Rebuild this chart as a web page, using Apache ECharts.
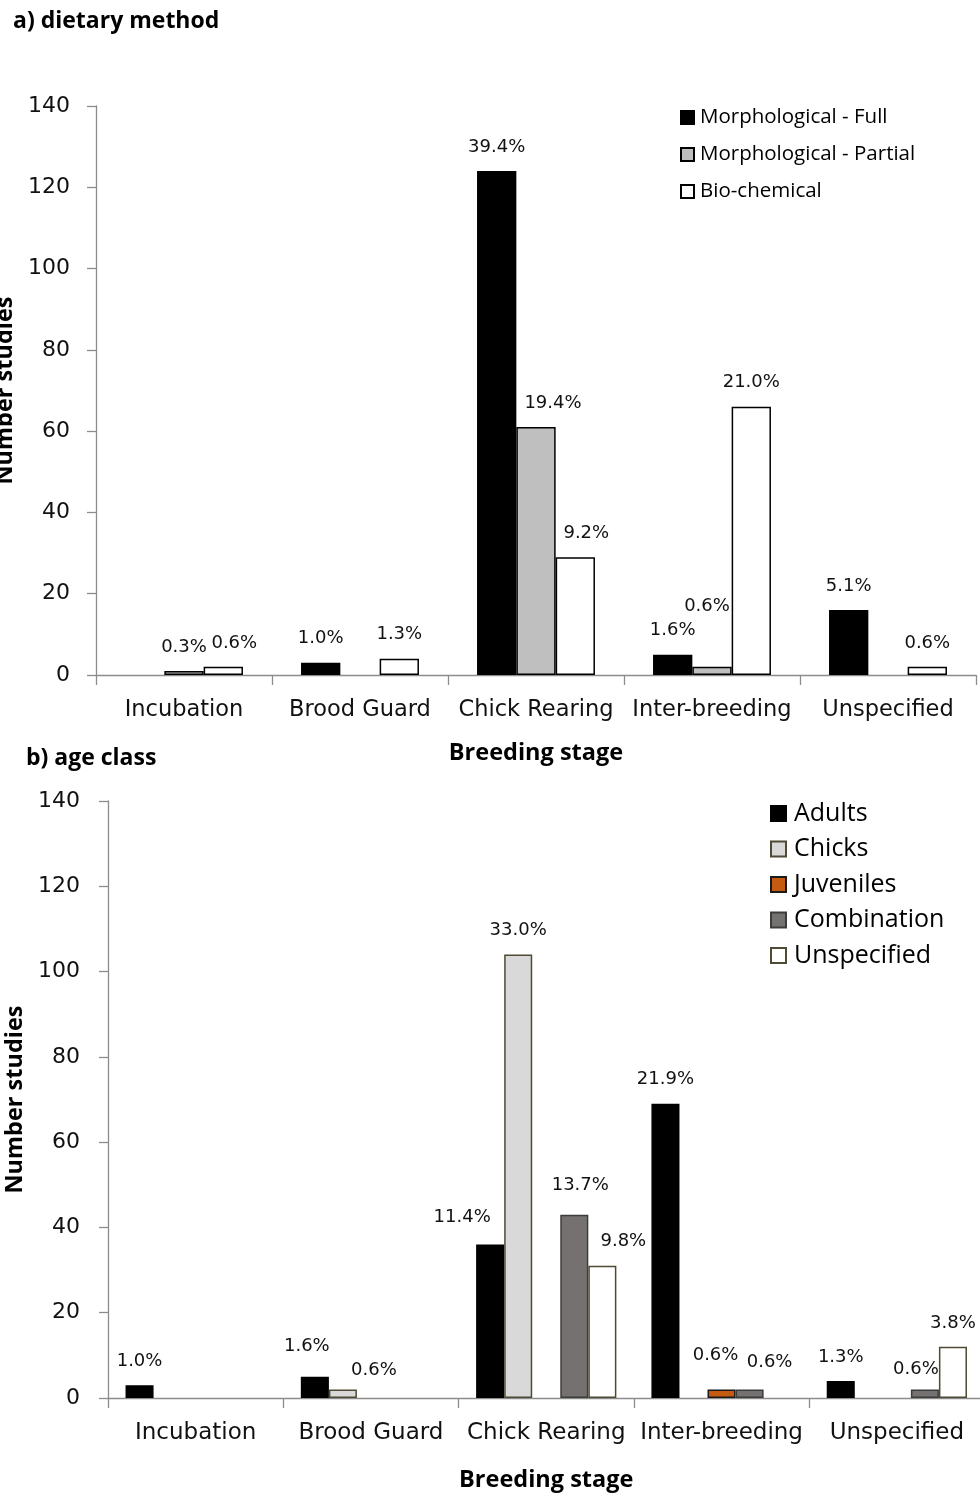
<!DOCTYPE html>
<html>
<head>
<meta charset="utf-8">
<script src="https://cdn.jsdelivr.net/npm/echarts@6/dist/echarts.min.js"></script>
<style>
html,body{margin:0;padding:0;background:#fff;}
#chart{width:980px;height:1493px;}
</style>
</head>
<body>
<div id="chart"></div>
<script>
// ---------- data ----------
const stages = ['Incubation', 'Brood Guard', 'Chick Rearing', 'Inter-breeding', 'Unspecified'];
const yTicks = [0, 20, 40, 60, 80, 100, 120, 140];

// a) dietary method
const methodNames = ['Morphological - Full', 'Morphological - Partial', 'Bio-chemical'];
const morphFull    = [0, 3, 124, 5, 16];
const morphPartial = [1, 0, 61, 2, 0];
const bioChemical  = [2, 4, 29, 66, 2];
const morphFullPct    = ['', '1.0%', '39.4%', '1.6%', '5.1%'];
const morphPartialPct = ['0.3%', '', '19.4%', '0.6%', ''];
const bioChemicalPct  = ['0.6%', '1.3%', '9.2%', '21.0%', '0.6%'];

// b) age class
const ageNames = ['Adults', 'Chicks', 'Juveniles', 'Combination', 'Unspecified'];
const adults      = [3, 5, 36, 69, 4];
const chicks      = [0, 2, 104, 0, 0];
const juveniles   = [0, 0, 0, 2, 0];
const combination = [0, 0, 43, 2, 2];
const unspecAge   = [0, 0, 31, 0, 12];
const adultsPct      = ['1.0%', '1.6%', '11.4%', '21.9%', '1.3%'];
const chicksPct      = ['', '0.6%', '33.0%', '', ''];
const juvenilesPct   = ['', '', '', '0.6%', ''];
const combinationPct = ['', '', '13.7%', '0.6%', '0.6%'];
const unspecAgePct   = ['', '', '9.8%', '', '3.8%'];

// ---------- styling / label nudges ----------
const numFont = 'DejaVu Sans';
const txtFont = 'Open Sans';

const nudgeA = { '2-0': [11, 0], '1-2': [17, 0], '2-2': [11, 0], '1-3': [-5, -37] };
const nudgeB = {
  '0-1': [-8, -6], '1-1': [31, 5], '0-2': [-28, -3], '3-2': [6, -5], '4-2': [21, 0],
  '2-3': [-6, -10], '3-3': [20, -3], '3-4': [-9, 4]
};

function buildData(vals, pcts, si, nudge) {
  return vals.map((v, i) => {
    if (!v) return { value: null };
    const n = nudge[si + '-' + i] || [0, 0];
    return { value: v, pct: pcts[i], label: { offset: n } };
  });
}

function mkSeries(name, vals, pcts, si, nudge, grid, color, border, bw) {
  return {
    type: 'bar', name: name, xAxisIndex: grid, yAxisIndex: grid,
    data: buildData(vals, pcts, si, nudge),
    itemStyle: { color: color, borderColor: border, borderWidth: bw },
    label: {
      show: true, position: 'top', distance: 15,
      fontFamily: numFont, fontSize: 18, color: '#111',
      formatter: p => p.data.pct || ''
    },
    barCategoryGap: grid === 0 ? '33%' : '20%', barGap: '0%',
    emphasis: { disabled: true }
  };
}

const series = [
  mkSeries(methodNames[0], morphFull, morphFullPct, 0, nudgeA, 0, '#000000', '#000000', 1.5),
  mkSeries(methodNames[1], morphPartial, morphPartialPct, 1, nudgeA, 0, '#bfbfbf', '#000000', 1.5),
  mkSeries(methodNames[2], bioChemical, bioChemicalPct, 2, nudgeA, 0, '#ffffff', '#000000', 1.5),
  mkSeries(ageNames[0], adults, adultsPct, 0, nudgeB, 1, '#000000', '#000000', 1.5),
  mkSeries(ageNames[1], chicks, chicksPct, 1, nudgeB, 1, '#d9d9d9', '#4f4a33', 1.5),
  mkSeries(ageNames[2], juveniles, juvenilesPct, 2, nudgeB, 1, '#c55a11', '#1a1a1a', 1.5),
  mkSeries(ageNames[3], combination, combinationPct, 3, nudgeB, 1, '#767171', '#3c3c3c', 1.5),
  mkSeries(ageNames[4], unspecAge, unspecAgePct, 4, nudgeB, 1, '#ffffff', '#4f4a33', 1.5)
];

function xAxisCfg(grid, labelSize, nameGap) {
  return {
    type: 'category', gridIndex: grid, data: stages,
    axisLine: { lineStyle: { color: '#8c8c8c', width: 1.3 } },
    axisTick: { show: true, length: 10, lineStyle: { color: '#8c8c8c', width: 1.3 } },
    axisLabel: { fontFamily: numFont, fontSize: labelSize, color: '#111', margin: 24, interval: 0 },
    name: 'Breeding stage', nameLocation: 'middle', nameGap: nameGap,
    nameTextStyle: { fontFamily: txtFont, fontWeight: 'bold', fontSize: 23.5, color: '#000' }
  };
}
function yAxisCfg(grid, nameGap, margin) {
  return {
    type: 'value', gridIndex: grid, min: yTicks[0], max: yTicks[yTicks.length - 1],
    interval: yTicks[1] - yTicks[0],
    axisLine: { show: true, lineStyle: { color: '#8c8c8c', width: 1.3 } },
    axisTick: { show: true, length: 9, lineStyle: { color: '#8c8c8c', width: 1.3 } },
    splitLine: { show: false },
    axisLabel: { fontFamily: numFont, fontSize: 22, color: '#111', margin: margin },
    name: 'Number studies', nameLocation: 'middle', nameGap: nameGap, nameRotate: 90,
    nameTextStyle: { fontFamily: txtFont, fontWeight: 'bold', fontSize: 23.5, color: '#000' }
  };
}

const option = {
  animation: false,
  backgroundColor: '#ffffff',
  title: [
    { text: 'a) dietary method', left: 8, top: 5,
      textStyle: { fontFamily: txtFont, fontWeight: 'bold', fontSize: 23, color: '#000' } },
    { text: 'b) age class', left: 21, top: 742,
      textStyle: { fontFamily: txtFont, fontWeight: 'bold', fontSize: 23, color: '#000' } }
  ],
  legend: [
    { data: methodNames, orient: 'vertical', left: 675, top: 102, icon: 'rect',
      itemWidth: 13, itemHeight: 13, itemGap: 16,
      textStyle: { fontFamily: txtFont, fontSize: 20.5, color: '#000', padding: [0, 0, 0, 1] } },
    { data: ageNames, orient: 'vertical', left: 765, top: 796, icon: 'rect',
      itemWidth: 15, itemHeight: 15, itemGap: 10.5,
      textStyle: { fontFamily: txtFont, fontSize: 25, color: '#000', padding: [0, 0, 0, 3] } }
  ],
  grid: [
    { left: 96, top: 106, width: 880, height: 569, outerBoundsMode: 'none', containLabel: false },
    { left: 108, top: 801, width: 876.5, height: 597, outerBoundsMode: 'none', containLabel: false }
  ],
  xAxis: [xAxisCfg(0, 22.5, 66), xAxisCfg(1, 23, 70)],
  yAxis: [yAxisCfg(0, 79, 26), yAxisCfg(1, 81, 28)],
  series: series
};

const chart = echarts.init(document.getElementById('chart'), null, { renderer: 'canvas' });
chart.setOption(option);
</script>
</body>
</html>
